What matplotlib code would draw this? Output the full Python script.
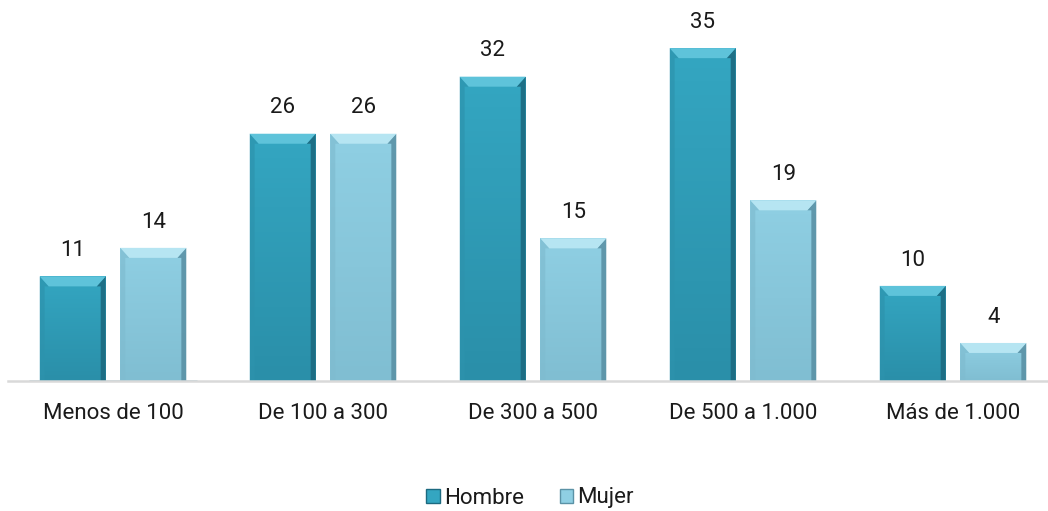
import numpy as np
import matplotlib
matplotlib.use("Agg")
import matplotlib.pyplot as plt
from matplotlib.patches import Polygon
from matplotlib.colors import LinearSegmentedColormap

plt.rcParams['font.family'] = ['Roboto', 'DejaVu Sans']

categorias = ['Menos de 100', 'De 100 a 300', 'De 300 a 500', 'De 500 a 1.000', 'Más de 1.000']
hombre = [11, 26, 32, 35, 10]
mujer = [14, 26, 15, 19, 4]

# bevel colours and vertical gradient for each series
estilo_h = dict(top='#5ec3da', left='#2d93ad', right='#1c6a80',
                c1='#34a6c1', c2='#2a8fa9')
estilo_m = dict(top='#b6e5f2', left='#7fbcd0', right='#5b92a6',
                c1='#8fcfe3', c2='#80bed2')

fig = plt.figure(figsize=(10.48, 5.11), dpi=100)
ax = fig.add_axes([8 / 1048, 130 / 511, 1040 / 1048, 380.4 / 511])

x = np.arange(len(categorias))
w = 0.314
off = 0.192
ax.set_xlim(-0.5, -0.5 + 1040 / 210)
ax.set_ylim(0, 40)

dx = 9 / 210
dy = 10 / 9.51


def bevel_bar(xc, h, st):
    bars = ax.bar(xc, h, w, color=st['c1'], zorder=2)
    b = bars[0]
    x0, x1 = b.get_x(), b.get_x() + b.get_width()
    y0, y1 = 0, b.get_height()
    grad = LinearSegmentedColormap.from_list('g', [st['c2'], st['c1']])
    im = ax.imshow(np.linspace(0, 1, 50).reshape(-1, 1), cmap=grad, origin='lower',
                   extent=(x0, x1, y0, y1), aspect='auto', zorder=2.5)
    im.set_clip_path(b)
    sx = dx * 0.55
    ax.add_patch(Polygon([(x0, y1), (x1, y1), (x1 - dx, y1 - dy), (x0 + dx, y1 - dy)],
                         closed=True, color=st['top'], lw=0, zorder=3))
    ax.add_patch(Polygon([(x0, y0), (x0, y1), (x0 + dx, y1 - dy), (x0 + sx, y1 - dy), (x0 + sx, y0)],
                         closed=True, color=st['left'], lw=0, zorder=2.8, alpha=0.7))
    ax.add_patch(Polygon([(x1, y0), (x1, y1), (x1 - dx, y1 - dy), (x1 - sx, y1 - dy), (x1 - sx, y0)],
                         closed=True, color=st['right'], lw=0, zorder=2.8, alpha=0.9))
    ax.annotate(str(h), (xc, h), xytext=(0, 11), textcoords='offset points',
                ha='center', va='bottom', fontsize=16, color='#1a1a1a')


for i in range(len(categorias)):
    bevel_bar(x[i] - off, hombre[i], estilo_h)
    bevel_bar(x[i] + off, mujer[i], estilo_m)

for s in ['top', 'right', 'left']:
    ax.spines[s].set_visible(False)
ax.spines['bottom'].set_color('#d9d9d9')
ax.spines['bottom'].set_linewidth(1.8)
ax.spines['bottom'].set_zorder(4)
ax.set_yticks([])
ax.set_xticks(x)
ax.set_xticklabels(categorias, fontsize=16, color='#1a1a1a')
ax.tick_params(axis='x', length=0, pad=16)

# legend
h1 = ax.bar([0], [0], color=estilo_h['c1'], edgecolor=estilo_h['right'], lw=1)
h2 = ax.bar([0], [0], color=estilo_m['c1'], edgecolor=estilo_m['right'], lw=1)
fig.legend(handles=[h1, h2], labels=['Hombre', 'Mujer'], loc='center',
           bbox_to_anchor=(530 / 1048, 1 - 498 / 511), ncol=2, frameon=False,
           fontsize=16, handlelength=0.6, handleheight=0.6, handletextpad=0.2,
           columnspacing=1.6, labelcolor='#1a1a1a')

fig.savefig('out.png', dpi=100)
